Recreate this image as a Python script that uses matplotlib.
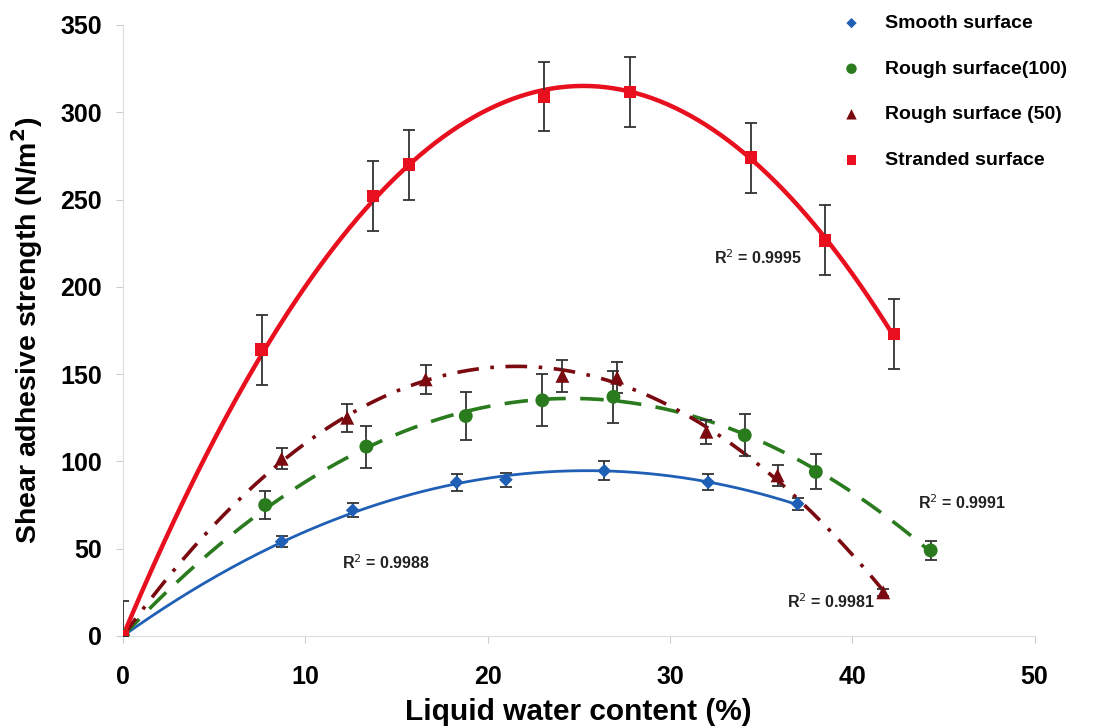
import numpy as np
import matplotlib.pyplot as plt

plt.rcParams['font.family'] = ['Liberation Sans', 'DejaVu Sans']

# smooth surface
x_smooth = [0, 8.7, 12.6, 18.3, 21.0, 26.4, 32.1, 37.0]
y_smooth = [0, 54, 72, 88, 89.5, 94.6, 88, 75.7]
e_smooth = [0, 3, 4, 5, 4, 5.5, 4.5, 3.5]

# rough surface (100)
x_r100 = [0, 7.8, 13.35, 18.8, 23.0, 26.9, 34.1, 38.0, 44.3]
y_r100 = [0, 75, 108.5, 126, 135, 137, 115, 94, 49]
e_r100 = [0, 8, 12, 14, 15, 15, 12, 10, 5.5]

# rough surface (50)
x_r50 = [0, 8.7, 12.3, 16.6, 24.1, 27.1, 32.0, 35.9, 41.7]
y_r50 = [0, 101.5, 125, 147, 149, 148, 117, 92, 25]
e_r50 = [0, 6, 8, 8.5, 9, 9, 7, 6, 2]

# stranded surface
x_str = [0, 7.6, 13.7, 15.7, 23.1, 27.8, 34.45, 38.5, 42.3]
y_str = [0, 164, 252, 270, 309, 311.5, 274, 226.6, 173]
e_str = [20, 20, 20, 20, 20, 20, 20, 20, 20]

labels = ['Smooth surface', 'Rough surface(100)', 'Rough surface (50)', 'Stranded surface']
r2_text = ['R$^2$ = 0.9988', 'R$^2$ = 0.9991', 'R$^2$ = 0.9981', 'R$^2$ = 0.9995']
r2_pos = [(12.0, 41.8), (43.6, 76.2), (36.4, 19.9), (32.4, 217)]


def trend(x, y, deg=3):
    # polynomial trendline with zero intercept
    x = np.asarray(x, float)
    y = np.asarray(y, float)
    A = np.column_stack([x ** k for k in range(1, deg + 1)])
    coef, *_ = np.linalg.lstsq(A, y, rcond=None)
    xs = np.linspace(0, x.max(), 300)
    ys = sum(c * xs ** (k + 1) for k, c in enumerate(coef))
    return xs, ys


fig = plt.figure(figsize=(11.03, 7.28), dpi=100)
ax = fig.add_axes([0.1115, 0.1264, 0.8265, 0.8393])

series = [
    (x_smooth, y_smooth, e_smooth, '#1f5fb5', 'D', 7, '-', 2.0, 2),
    (x_r100, y_r100, e_r100, '#2a7a1e', 'o', 10, (0, (6.5, 4)), 2.6, 2),
    (x_r50, y_r50, e_r50, '#7a0a10', '^', 10, (0, (6, 3.2, 1, 3.2)), 2.6, 3),
    (x_str, y_str, e_str, '#e8101f', 's', 9, '-', 3.2, 2),
]

handles = []
for (x, y, e, col, mk, ms, ls, lw, deg), lab in zip(series, labels):
    xs, ys = trend(x, y, deg)
    ax.plot(xs, ys, color=col, ls=ls, lw=lw, zorder=2)
    ax.errorbar(x, y, yerr=e, fmt='none', ecolor='#333333', elinewidth=1.3,
                capsize=4, capthick=1.3, zorder=3)
    h = ax.scatter(x, y, marker=mk, s=ms ** 2, color=col, zorder=4, label=lab,
                   edgecolors='none')
    handles.append(h)

for (tx, ty), t in zip(r2_pos, r2_text):
    ax.text(tx, ty, t, fontsize=11.5, fontweight='bold', color='#222222',
            ha='left', va='center')

ax.set_xlim(0, 50)
ax.set_ylim(0, 350)
ax.set_xticks(np.arange(0, 51, 10))
ax.set_yticks(np.arange(0, 351, 50))
for s in ['top', 'right']:
    ax.spines[s].set_visible(False)
for s in ['left', 'bottom']:
    ax.spines[s].set_color('#dddddd')
ax.tick_params(axis='both', colors='#cccccc', length=5, labelcolor='black',
               labelsize=18)
ax.tick_params(axis='x', pad=16)
ax.tick_params(axis='y', pad=10)
for lbl in ax.get_xticklabels() + ax.get_yticklabels():
    lbl.set_fontweight('bold')

ax.set_xlabel('Liquid water content (%)', fontsize=21.5, fontweight='bold')
ax.set_ylabel('Shear adhesive strength (N/m$^{\\mathbf{2}}$)', fontsize=20.5,
              fontweight='bold')
ax.xaxis.set_label_coords(0.5, -0.102)
ax.yaxis.set_label_coords(-0.086, 0.5)

leg = fig.legend(handles=handles, labels=labels, loc='upper left',
                 bbox_to_anchor=(0.7385, 1.004), frameon=False,
                 prop={'size': 14, 'weight': 'bold'}, labelspacing=1.44,
                 handletextpad=0.7, markerscale=0.75, scatterpoints=1)

fig.savefig('out.png', dpi=100)
